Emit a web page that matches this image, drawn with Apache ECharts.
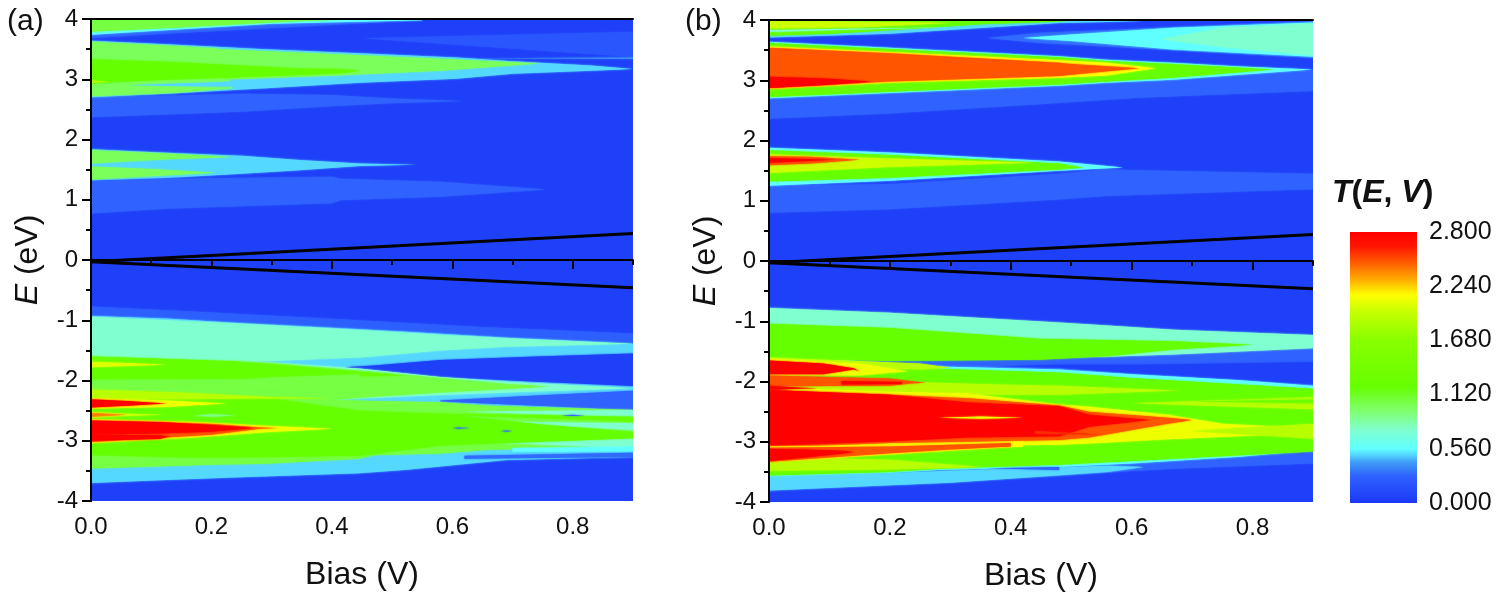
<!DOCTYPE html>
<html>
<head>
<meta charset="utf-8">
<style>html,body{margin:0;padding:0;background:#fff}#c{width:1500px;height:606px}</style>
<script src="https://cdn.jsdelivr.net/npm/echarts@6/dist/echarts.min.js"></script>
</head>
<body>
<div id="c"></div>
<script>
// Colour scale of T(E,V)
const scaleT = [0, .28, .42, .5, .56, .75, .95, 1.2, 1.68, 2.0, 2.15, 2.3, 2.5, 2.65, 2.8];
const scaleC = ['#1c38f8','#2f62ff','#3f9cf5','#55d8ff','#60ffff','#80ffd0','#80ff70','#66ff00','#88ff00','#ccff00','#ffff00','#ffb000','#ff5500','#ff1500','#ff0000'];

const biasTicks = [0, .2, .4, .6, .8];
const biasMinor = [.1, .3, .5, .7, .9];
const energyTicks = [-4, -3, -2, -1, 0, 1, 2, 3, 4];
const scaleTicks = [0, .56, 1.12, 1.68, 2.24, 2.8];

// Bias window edges [bias, energy]
const muHigh = [[0, -.03], [.9, .44]];
const muLow = [[0, -.03], [.9, -.46]];

// Contour regions: [T, [bias, lowerE, upperE], ...]
const panelAUpper = [
  [.05,[0,-4,4],[.9,-4,4]],
  [.2,[.45,3.68,3.68],[.9,3.37,3.79]],
  [.42,[.62,3.35,3.35],[.9,3.34,3.36]],
  [.28,[0,3.68,4],[.13,3.76,4],[.55,3.98,4]],
  [.56,[0,3.74,4],[.3,3.92,4],[.55,3.98,4]],
  [1.05,[0,3.79,4],[.17,3.87,4],[.33,3.96,4],[.42,3.99,4]],
  [.28,[0,2.37,2.7],[.25,2.46,2.76],[.4,2.55,2.74],[.5,2.6,2.68],[.62,2.64,2.64]],
  [.5,[0,2.7,3.64],[.125,2.76,3.58],[.29,2.85,3.5],[.446,2.94,3.43],[.607,3.01,3.36],[.7,3.09,3.3],[.83,3.14,3.23],[.9,3.17,3.17]],
  [1.0,[0,2.72,3.62],[.14,2.78,3.55],[.21,2.83,3.51],[.235,2.85,2.85]],
  [1.0,[0,2.93,3.62],[.12,2.93,3.55],[.235,3.0,3.49],[.4,3.06,3.42],[.58,3.14,3.34],[.745,3.26,3.26]],
  [1.2,[0,2.93,3.33],[.125,2.99,3.29],[.35,3.07,3.18],[.414,3.1,3.17],[.447,3.14,3.14]],
  [.5,[.06,2.9,2.9],[.21,2.88,2.95],[.3,2.88,3.0]],
  [1.0,[0,2.72,2.9],[.14,2.78,2.86],[.2,2.83,2.83]],
  [1.9,[0,2.94,2.98],[.03,2.96,2.96]],
  [.5,[0,1.32,1.84],[.125,1.36,1.78],[.25,1.43,1.73],[.346,1.49,1.66],[.446,1.56,1.6],[.54,1.58,1.58]],
  [1.0,[0,1.6,1.82],[.12,1.67,1.77],[.236,1.71,1.71]],
  [1.0,[0,1.33,1.55],[.1,1.39,1.51],[.208,1.45,1.45]],
  [.28,[0,.77,1.31],[.125,.85,1.35],[.4,.94,1.38],[.414,.99,1.35],[.58,1.05,1.3],[.756,1.17,1.17]]
];
const panelALower = [
  [.25,[0,-1,-.77],[.18,-1.1,-.86],[.446,-1.3,-1],[.65,-1.4,-1.11],[.9,-1.5,-1.22]],
  [.5,[0,-3.7,-.93],[.125,-3.65,-.97],[.236,-3.61,-1.04],[.446,-3.54,-1.15],[.525,-3.48,-1.19],[.69,-3.32,-1.29],[.9,-3.27,-1.39]],
  [.75,[0,-1.7,-.94],[.236,-1.7,-1.05],[.446,-1.62,-1.16],[.58,-1.5,-1.24],[.69,-1.44,-1.3],[.9,-1.39,-1.39]],
  [.05,[.42,-1.78,-1.78],[.47,-1.83,-1.75],[.58,-1.94,-1.66],[.74,-2.02,-1.6],[.9,-2.09,-1.55]],
  [.75,[0,-2.4,-1.59],[.3,-2.4,-1.7],[.446,-2.3,-1.8],[.58,-2.24,-1.94],[.69,-2.2,-2.02],[.9,-2.13,-2.13]],
  [1.05,[0,-2.4,-1.6],[.3,-2.4,-1.71],[.47,-2.27,-1.86],[.58,-2.2,-1.96],[.69,-2.14,-2.06],[.76,-2.1,-2.1]],
  [1.2,[0,-1.98,-1.6],[.24,-1.97,-1.68],[.446,-1.93,-1.86],[.52,-1.92,-1.92]],
  [.28,[.58,-2.35,-2.33],[.74,-2.42,-2.25],[.9,-2.49,-2.17]],
  [1.05,[0,-3.46,-2.3],[.2,-3.4,-2.28],[.29,-3.38,-2.3],[.446,-3.3,-2.33],[.47,-3.24,-2.34],[.58,-3.21,-2.36],[.66,-3.15,-2.42],[.9,-3.1,-2.49]],
  [.75,[.62,-2.52,-2.52],[.9,-2.6,-2.49]],
  [.75,[.63,-2.68,-2.68],[.9,-2.82,-2.71]],
  [.75,[.6,-3.0,-3.0],[.9,-3.13,-2.96]],
  [.56,[.7,-3.18,-3.12],[.9,-3.18,-3.1]],
  [1.2,[0,-3.3,-2.3],[.3,-3.27,-2.3],[.446,-3.25,-2.5],[.58,-3.08,-2.55],[.74,-3.02,-2.72],[.9,-2.96,-2.86]],
  [1.2,[.58,-2.57,-2.55],[.9,-2.68,-2.6]],
  [1.05,[0,-3.4,-3.25],[.2,-3.36,-3.3],[.28,-3.33,-3.33]],
  [1.05,[.14,-2.1,-2.1],[.3,-2.15,-1.95],[.446,-2.2,-1.9]],
  [.9,[.17,-2.58,-2.58],[.2,-2.6,-2.56],[.24,-2.58,-2.58]],
  [.3,[.6,-2.79,-2.79],[.61,-2.8,-2.78],[.63,-2.79,-2.79]],
  [.3,[.68,-2.84,-2.84],[.69,-2.85,-2.83],[.7,-2.84,-2.84]],
  [.3,[.78,-2.58,-2.58],[.8,-2.59,-2.57],[.82,-2.58,-2.58]],
  [.3,[.62,-3.3,-3.25],[.9,-3.27,-3.2]],
  [1.9,[0,-2.31,-2.15],[.15,-2.31,-2.2],[.29,-2.3,-2.27],[.4,-2.3,-2.3]],
  [2.1,[0,-2.47,-2.29],[.125,-2.44,-2.33],[.225,-2.38,-2.38]],
  [2.8,[0,-2.45,-2.31],[.06,-2.42,-2.34],[.125,-2.38,-2.38]],
  [2.05,[0,-1.78,-1.69],[.06,-1.76,-1.71],[.125,-1.74,-1.74],[.25,-1.75,-1.75]],
  [2.0,[0,-2.62,-2.52],[.06,-2.59,-2.55],[.12,-2.57,-2.57]],
  [2.4,[0,-2.6,-2.54],[.06,-2.57,-2.57]],
  [2.1,[0,-3.04,-2.64],[.18,-2.94,-2.69],[.29,-2.86,-2.75],[.4,-2.8,-2.8]],
  [2.5,[0,-3.02,-2.66],[.2,-2.9,-2.72],[.28,-2.8,-2.78],[.31,-2.79,-2.79]],
  [2.8,[0,-2.9,-2.67],[.114,-2.88,-2.69],[.2,-2.85,-2.74],[.27,-2.79,-2.79]],
  [2.8,[0,-3,-2.9],[.114,-2.97,-2.91],[.13,-2.93,-2.93]]
];
const panelBUpper = [
  [.05,[0,-4,4],[.9,-4,4]],
  [.3,[.36,3.7,3.7],[.448,3.62,3.79],[.9,3.37,3.98]],
  [.56,[.42,3.7,3.7],[.5,3.65,3.76],[.668,3.51,3.87],[.9,3.39,3.96]],
  [.75,[.65,3.68,3.68],[.75,3.55,3.87],[.9,3.41,3.94]],
  [.5,[0,3.71,3.99],[.2,3.77,3.99],[.48,3.95,3.99],[.62,3.98,3.98]],
  [1.2,[0,3.74,3.99],[.1,3.77,3.99],[.2,3.83,3.99],[.35,3.93,3.99],[.5,3.98,3.98]],
  [.75,[0,3.8,3.83],[.1,3.83,3.85],[.3,3.88,3.88]],
  [2.0,[0,3.86,3.98],[.15,3.88,3.97],[.3,3.95,3.95]],
  [.28,[0,2.36,2.7],[.2,2.45,2.79],[.448,2.6,2.93],[.613,2.71,3.01],[.9,2.82,3.17]],
  [.56,[0,2.7,3.64],[.2,2.79,3.54],[.48,2.91,3.4],[.558,2.96,3.34],[.668,3.01,3.29],[.78,3.09,3.23],[.9,3.18,3.18]],
  [1.2,[0,2.72,3.62],[.2,2.81,3.52],[.48,2.93,3.38],[.558,2.98,3.32],[.668,3.04,3.27],[.834,3.18,3.18]],
  [2.15,[0,2.85,3.56],[.2,2.96,3.47],[.48,3.04,3.33],[.558,3.08,3.29],[.64,3.2,3.2]],
  [2.5,[0,2.87,3.54],[.2,2.98,3.45],[.48,3.07,3.29],[.5,3.09,3.27],[.613,3.2,3.2]],
  [2.8,[0,2.87,3.06],[.095,2.92,3.03],[.17,2.98,2.98]],
  [.28,[0,.8,1.25],[.2,.86,1.28],[.48,1.02,1.45],[.558,1.08,1.52],[.9,1.19,1.45]],
  [.56,[0,1.25,1.88],[.2,1.33,1.8],[.48,1.5,1.65],[.586,1.55,1.55]],
  [1.2,[0,1.32,1.84],[.2,1.38,1.76],[.48,1.52,1.62],[.52,1.55,1.55]],
  [2.0,[0,1.46,1.77],[.2,1.56,1.7],[.44,1.63,1.63]],
  [2.5,[0,1.59,1.74],[.07,1.62,1.73],[.15,1.68,1.68]],
  [2.8,[0,1.63,1.71],[.11,1.68,1.68]]
];
const panelBLower = [
  [.28,[0,-3.81,-.77],[.2,-3.72,-.86],[.48,-3.57,-1.02],[.56,-3.51,-1.07],[.67,-3.45,-1.14],[.9,-3.36,-1.23]],
  [.75,[0,-1.6,-.78],[.2,-1.6,-.86],[.48,-1.6,-1.02],[.56,-1.59,-1.07],[.67,-1.55,-1.14],[.9,-1.45,-1.23]],
  [.05,[.38,-1.75,-1.75],[.48,-1.77,-1.72],[.613,-1.87,-1.72],[.9,-2.05,-1.68]],
  [.56,[0,-3.6,-1.55],[.2,-3.52,-1.7],[.28,-3.47,-1.75],[.48,-3.42,-1.8],[.6,-3.36,-1.88],[.78,-3.25,-1.98],[.9,-3.14,-2.07]],
  [.5,[0,-3.81,-3.58],[.2,-3.72,-3.52],[.3,-3.68,-3.48],[.56,-3.5,-3.4],[.62,-3.42,-3.42]],
  [.28,[.36,-3.44,-3.44],[.48,-3.47,-3.42]],
  [1.2,[0,-1.62,-1.04],[.2,-1.66,-1.11],[.448,-1.64,-1.29],[.56,-1.58,-1.31],[.67,-1.47,-1.33],[.8,-1.39,-1.39]],
  [1.2,[0,-3.56,-1.58],[.2,-3.5,-1.72],[.28,-3.45,-1.79],[.48,-3.38,-1.85],[.6,-3.32,-1.94],[.9,-3.16,-2.12]],
  [1.9,[0,-3.48,-3.25],[.2,-3.46,-3.3],[.35,-3.42,-3.42]],
  [1.9,[0,-2.15,-1.9],[.2,-2.2,-2],[.38,-2.22,-2.05],[.48,-2.22,-2.07],[.6,-2.18,-2.12],[.68,-2.15,-2.15]],
  [1.9,[0,-1.75,-1.6],[.25,-1.8,-1.7],[.3,-1.77,-1.77]],
  [2.1,[0,-3.12,-2.1],[.2,-3.1,-2.17],[.33,-3.07,-2.2],[.48,-3.05,-2.38],[.53,-3.03,-2.42],[.66,-2.96,-2.55],[.75,-2.92,-2.7],[.9,-2.85,-2.78]],
  [1.9,[.6,-2.36,-2.36],[.9,-2.46,-2.26]],
  [1.3,[.7,-2.33,-2.33],[.9,-2.36,-2.3]],
  [1.9,[.7,-2.82,-2.82],[.9,-2.95,-2.7]],
  [2.5,[0,-3.1,-2.14],[.2,-3.02,-2.22],[.33,-3,-2.28],[.48,-2.97,-2.4],[.53,-2.93,-2.5],[.66,-2.7,-2.6],[.7,-2.64,-2.64]],
  [2.8,[0,-3.07,-2.14],[.2,-2.99,-2.22],[.33,-2.93,-2.35],[.48,-2.91,-2.41],[.53,-2.75,-2.55],[.63,-2.64,-2.64]],
  [2.1,[.28,-2.6,-2.6],[.35,-2.62,-2.58],[.42,-2.6,-2.6]],
  [2.6,[.44,-2.87,-2.82],[.55,-2.88,-2.88]],
  [2.1,[0,-1.9,-1.62],[.15,-1.9,-1.7],[.23,-1.83,-1.83]],
  [2.8,[0,-1.88,-1.65],[.09,-1.88,-1.7],[.14,-1.8,-1.78],[.15,-1.83,-1.83]],
  [2.5,[0,-2.08,-1.9],[.2,-2.07,-1.95],[.24,-2.03,-2],[.26,-2.02,-2.02]],
  [2.8,[.12,-2.05,-1.99],[.22,-2.04,-2.01]],
  [2.8,[0,-2.14,-2.07],[.05,-2.12,-2.1],[.08,-2.11,-2.11]],
  [2.15,[0,-3.34,-3.08],[.2,-3.21,-3.06],[.3,-3.15,-3.03],[.42,-3.08,-3]],
  [2.5,[0,-3.33,-3.1],[.2,-3.19,-3.08],[.3,-3.13,-3.05],[.4,-3.08,-3.02]],
  [2.8,[0,-3.32,-3.12],[.06,-3.26,-3.13],[.12,-3.2,-3.15],[.14,-3.17,-3.17]]
];

const panelA = panelAUpper.concat(panelALower);
const panelB = panelBUpper.concat(panelBLower);

function hexToRgb(h){return [1,3,5].map(i=>parseInt(h.substr(i,2),16));}
function colorOf(T){
  let i=1; while(i<scaleT.length-1 && T>scaleT[i]) i++;
  const f=(T-scaleT[i-1])/(scaleT[i]-scaleT[i-1]);
  const a=hexToRgb(scaleC[i-1]), b=hexToRgb(scaleC[i]);
  return 'rgb('+a.map((v,k)=>Math.round(v+(b[k]-v)*f)).join(',')+')';
}
function bandRender(bands){
  return function(params, api){
    const b=bands[params.dataIndex], pts=b.slice(1);
    const up=pts.map(p=>api.coord([p[0],p[2]]));
    const lo=pts.map(p=>api.coord([p[0],p[1]])).reverse();
    const c=colorOf(b[0]);
    return {type:'polygon',shape:{points:up.concat(lo)},style:{fill:c,shadowColor:c,shadowBlur:2}};
  };
}
function bandSeries(bands,g){
  return {type:'custom',xAxisIndex:g*3,yAxisIndex:g*2,clip:true,silent:true,z:2,
    renderItem:bandRender(bands),encode:{x:0,y:1},
    data:bands.map(b=>[b[1][0],b[1][1],b[0]])};
}
function muSeries(d,g){
  return {type:'line',xAxisIndex:g*3,yAxisIndex:g*2,data:d,symbol:'none',silent:true,z:5,
    lineStyle:{color:'#000',width:3}};
}
const font='"Liberation Sans", Arial, sans-serif';
const tickFont={fontFamily:font,fontSize:24,color:'#111'};
const lineS={lineStyle:{color:'#000',width:2}};
function xAxes(g){
  return [
    {gridIndex:g,type:'value',min:0,max:.9,interval:.1,position:'bottom',z:6,
     axisLine:{show:true,...lineS},splitLine:{show:false},
     axisTick:{show:true,length:9,inside:false,customValues:biasTicks,...lineS},
     axisLabel:{show:true,margin:14,customValues:biasTicks,formatter:v=>v.toFixed(1),...tickFont},
     name:'Bias (V)',nameLocation:'middle',nameGap:58,nameTextStyle:{fontFamily:font,fontSize:32,color:'#111'}},
    {gridIndex:g,type:'value',min:0,max:.9,interval:.1,position:'bottom',z:6,
     axisLine:{show:false},splitLine:{show:false},axisLabel:{show:false},
     axisTick:{show:true,length:5,customValues:biasMinor,...lineS}},
    {gridIndex:g,type:'value',min:0,max:.9,interval:.1,position:'top',z:6,
     axisLine:{show:true,...lineS},splitLine:{show:false},axisLabel:{show:false},axisTick:{show:false}}
  ];
}
function yAxes(g){
  return [
    {gridIndex:g,type:'value',min:-4,max:4,interval:1,position:'left',z:6,
     axisLine:{show:true,...lineS},splitLine:{show:false},
     axisTick:{show:true,length:9,...lineS},
     minorTick:{show:true,splitNumber:2,length:5,...lineS},minorSplitLine:{show:false},
     axisLabel:{margin:13,...tickFont},
     name:'{i|E} (eV)',nameLocation:'middle',nameGap:47,nameRotate:90,
     nameTextStyle:{fontFamily:font,fontSize:32,color:'#111',rich:{i:{fontFamily:font,fontSize:32,fontStyle:'italic',color:'#111'}}}},
    {gridIndex:g,type:'value',min:-4,max:4,interval:1,position:'right',z:6,
     axisLine:{show:true,...lineS},splitLine:{show:false},axisLabel:{show:false},axisTick:{show:false}}
  ];
}
const it={fontFamily:font,fontSize:32,fontStyle:'italic',color:'#111'};
const rm={fontFamily:font,fontSize:32,color:'#111'};
const option={
  animation:false,
  backgroundColor:'#fff',
  title:[
    {text:'(a)',left:2,top:2,textStyle:{fontFamily:font,fontSize:30,fontWeight:'normal',color:'#111'}},
    {text:'(b)',left:680,top:2,textStyle:{fontFamily:font,fontSize:30,fontWeight:'normal',color:'#111'}},
    {text:'{i|T}{r|(}{i|E}{r|, }{i|V}{r|)}',left:1327,top:172,textStyle:{rich:{i:it,r:rm}}}
  ],
  grid:[
    {left:91,width:542,top:19,height:482},
    {left:769,width:544,top:20,height:482},
    {left:1350,width:67,top:232,height:271}
  ],
  xAxis:[...xAxes(0),...xAxes(1),
    {gridIndex:2,type:'value',min:0,max:1,show:false}],
  yAxis:[...yAxes(0),...yAxes(1),
    {gridIndex:2,type:'value',min:0,max:2.8,interval:.56,position:'right',
     axisLine:{show:false},axisTick:{show:false},splitLine:{show:false},
     axisLabel:{margin:12,formatter:v=>v.toFixed(3),...tickFont,fontSize:25}}],
  series:[
    bandSeries(panelA,0),muSeries(muHigh,0),muSeries(muLow,0),
    bandSeries(panelB,1),muSeries(muHigh,1),muSeries(muLow,1),
    {type:'custom',xAxisIndex:6,yAxisIndex:4,silent:true,data:[[0,0,1,scaleT[scaleT.length-1]]],encode:{x:[0,2],y:[1,3]},
     renderItem:function(p,api){
       const a=api.coord([api.value(0),api.value(1)]),b=api.coord([api.value(2),api.value(3)]);
       const top=scaleT[scaleT.length-1];
       return {type:'rect',shape:{x:a[0],y:b[1],width:b[0]-a[0],height:a[1]-b[1]},
         style:{fill:new echarts.graphic.LinearGradient(0,1,0,0,scaleT.map((t,i)=>({offset:t/top,color:scaleC[i]})))}};
     }}
  ]
};
const chart=echarts.init(document.getElementById('c'),null,{renderer:'canvas'});
chart.setOption(option);
</script>
</body>
</html>
